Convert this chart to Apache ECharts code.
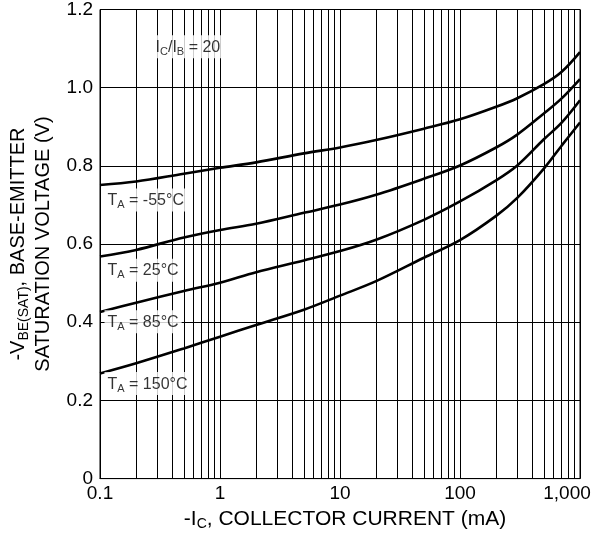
<!DOCTYPE html>
<html>
<head>
<meta charset="utf-8">
<script src="https://cdn.jsdelivr.net/npm/echarts@6/dist/echarts.min.js"></script>
<style>
  html, body { margin: 0; padding: 0; background: #fff; }
  #chart { width: 595px; height: 536px; }
</style>
</head>
<body>
<div id="chart"></div>
<script>
// collector current (mA)
const current = [0.1, 0.2, 0.5, 1, 2, 5, 10, 20, 50, 100, 200, 300, 500, 700, 1000];
// V_BE(sat) for each ambient temperature
const vMinus55 = [0.751, 0.760, 0.780, 0.795, 0.809, 0.832, 0.847, 0.866, 0.895, 0.919, 0.951, 0.973, 1.009, 1.040, 1.091];
const v25 = [0.568, 0.585, 0.617, 0.636, 0.652, 0.680, 0.701, 0.726, 0.767, 0.801, 0.847, 0.880, 0.934, 0.972, 1.022];
const v85 = [0.426, 0.450, 0.480, 0.501, 0.528, 0.558, 0.582, 0.611, 0.662, 0.709, 0.763, 0.801, 0.868, 0.910, 0.968];
const v150 = [0.269, 0.295, 0.333, 0.363, 0.393, 0.432, 0.468, 0.505, 0.565, 0.610, 0.672, 0.718, 0.793, 0.851, 0.911];

const xTickLabels = { 0.1: '0.1', 1: '1', 10: '10', 100: '100', 1000: '1,000' };
const minorGrid = [0.2, 0.3, 0.4, 0.5, 0.6, 0.7, 0.8, 0.9,
                   2, 3, 4, 5, 6, 7, 8, 9,
                   20, 30, 40, 50, 60, 70, 80, 90,
                   200, 300, 400, 500, 600, 700, 800, 900];

// curve labels: [x, y, temperature text]
const tempLabels = [
  [0.108, 0.713, '-55°C'],
  [0.108, 0.533, '25°C'],
  [0.108, 0.401, '85°C'],
  [0.108, 0.243, '150°C']
];

const FONT = 'Liberation Sans, Arial, sans-serif';

const pair = (ys) => current.map((x, i) => [x, ys[i]]);

const curve = (ys) => ({
  type: 'line',
  data: pair(ys),
  smooth: 0.35,
  symbol: 'none',
  z: 5,
  lineStyle: { color: '#000', width: 2.6 }
});

const labelRich = {
  t: { fontSize: 16, fontFamily: FONT, color: '#000', lineHeight: 20 },
  s: { fontSize: 11, fontFamily: FONT, color: '#000', verticalAlign: 'bottom' }
};

const chart = echarts.init(document.getElementById('chart'), null, { renderer: 'canvas' });

chart.setOption({
  animation: false,
  backgroundColor: '#fff',
  grid: {
    left: 100, right: 15, top: 7, bottom: 49,
    show: true, borderColor: '#000', borderWidth: 1
  },
  xAxis: {
    type: 'log',
    logBase: 10,
    min: 0.1,
    max: 1000,
    name: '{t|-I}{s|C}{t|, COLLECTOR CURRENT (mA)}',
    nameLocation: 'middle',
    nameGap: 26,
    nameTextStyle: {
      padding: [0, 0, 0, 10],
      rich: {
        t: { fontSize: 21, fontFamily: FONT, color: '#000', lineHeight: 24 },
        s: { fontSize: 14, fontFamily: FONT, color: '#000', verticalAlign: 'bottom' }
      }
    },
    axisLine: { lineStyle: { color: '#000', width: 1 } },
    axisTick: { show: false },
    axisLabel: {
      margin: 6,
      fontSize: 19,
      fontFamily: FONT,
      color: '#000',
      formatter: (v) => v === 1000 ? '{r|1,000}' : (xTickLabels[v] || ''),
      rich: { r: { fontSize: 19, fontFamily: FONT, color: '#000', padding: [0, 26, 0, 0] } }
    },
    splitLine: { show: true, lineStyle: { color: '#000', width: 1 } }
  },
  yAxis: {
    type: 'value',
    min: 0,
    max: 1.2,
    interval: 0.2,
    name: '{t|-V}{s|BE(SAT)}{t|, BASE-EMITTER}\n{t|SATURATION VOLTAGE (V)}',
    nameLocation: 'middle',
    nameRotate: 90,
    nameGap: 44,
    nameTextStyle: {
      rich: {
        t: { fontSize: 20, fontFamily: FONT, color: '#000', lineHeight: 25 },
        s: { fontSize: 14, fontFamily: FONT, color: '#000', verticalAlign: 'bottom' }
      }
    },
    axisLine: { show: true, lineStyle: { color: '#000', width: 1 } },
    axisTick: { show: false },
    axisLabel: {
      margin: 7,
      fontSize: 19,
      fontFamily: FONT,
      color: '#000',
      formatter: (v) => v === 0 ? '0' : v.toFixed(1)
    },
    splitLine: { show: true, lineStyle: { color: '#000', width: 1 } }
  },
  series: [
    {
      // minor log grid lines
      type: 'line',
      data: [],
      silent: true,
      z: 1,
      markLine: {
        silent: true,
        z: 1,
        symbol: 'none',
        animation: false,
        label: { show: false },
        lineStyle: { color: '#000', width: 1, type: 'solid' },
        data: minorGrid.map((v) => ({ xAxis: v }))
      }
    },
    curve(vMinus55),
    curve(v25),
    curve(v85),
    curve(v150),
    {
      type: 'scatter',
      data: tempLabels.map((d) => [d[0], d[1], d[2]]),
      symbolSize: 1,
      itemStyle: { color: 'rgba(0,0,0,0)' },
      z: 10,
      silent: true,
      label: {
        show: true,
        position: 'right',
        distance: 0,
        backgroundColor: '#fff',
        padding: [2, 3, 1, 3],
        formatter: (p) => '{t|T}{s|A}{t| = ' + p.data[2] + '}',
        rich: labelRich
      }
    },
    {
      type: 'scatter',
      data: [[0.54, 1.105]],
      symbolSize: 1,
      itemStyle: { color: 'rgba(0,0,0,0)' },
      z: 10,
      silent: true,
      label: {
        show: true,
        position: 'inside',
        backgroundColor: '#fff',
        padding: [2, 3, 1, 3],
        formatter: '{t|I}{s|C}{t|/I}{s|B}{t| = 20}',
        rich: labelRich
      }
    }
  ]
});
</script>
</body>
</html>
